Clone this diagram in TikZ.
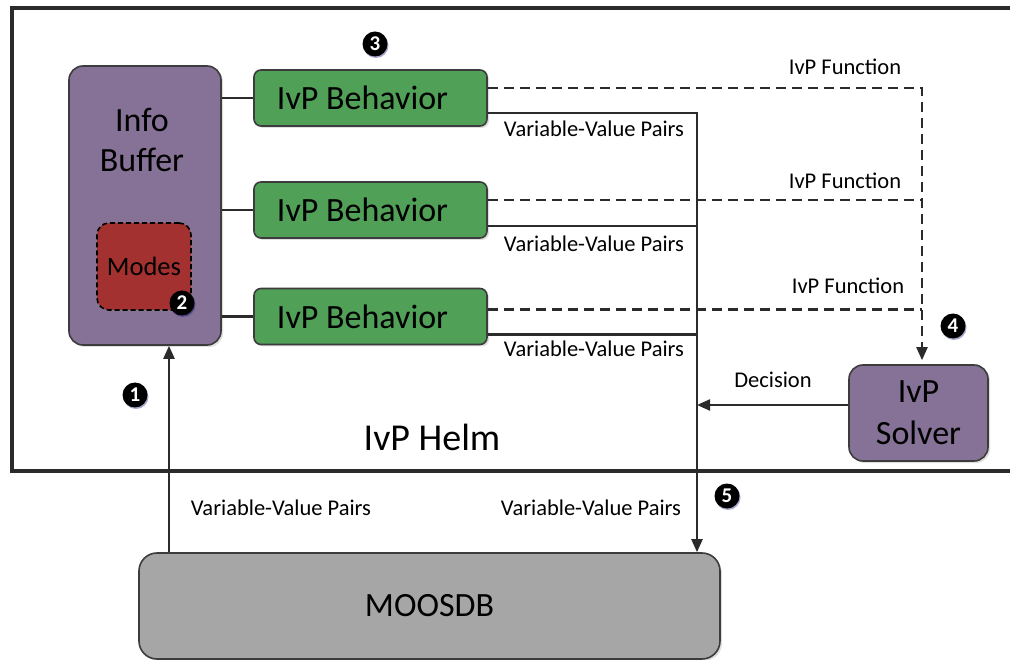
\documentclass[tikz,border=0pt]{standalone}
\usepackage{fontspec}
\setmainfont{Carlito}
\usetikzlibrary{arrows.meta,shadows}
\definecolor{helmline}{RGB}{43,43,43}
\definecolor{infofill}{RGB}{133,114,150}
\definecolor{modesfill}{RGB}{163,49,48}
\definecolor{behfill}{RGB}{80,160,88}
\definecolor{dbfill}{RGB}{166,166,166}
\definecolor{boxline}{RGB}{60,60,60}
\tikzset{
  box/.style={draw=boxline, line width=1.6pt, rounded corners=14pt, inner sep=0pt,
    drop shadow={opacity=0.25, shadow xshift=2pt, shadow yshift=-2pt}},
  behbox/.style={box, fill=behfill, rounded corners=7pt, minimum width=233pt,
    minimum height=56pt, font=\fontsize{34}{40}\selectfont},
  conn/.style={draw=helmline, line width=2.2pt},
  tip/.style={-{Triangle[length=13pt,width=11pt]}},
  fnline/.style={conn, dash pattern=on 10pt off 6pt},
  lbl/.style={font=\fontsize{22.5}{26}\selectfont, inner sep=0pt},
  badge/.style={circle, fill=black, text=white, inner sep=0pt, minimum size=25pt,
    font=\bfseries\fontsize{21}{21}\selectfont,
    drop shadow={opacity=0.35, shadow xshift=1pt, shadow yshift=-1.5pt, fill=blue!40!black}}
}
\begin{document}
\begin{tikzpicture}[x=1pt,y=-1pt]
\useasboundingbox (0,0) rectangle (1010,660);
\clip (0,0) rectangle (1010,660);
% helm frame
\draw[helmline, line width=4pt] (12,8) rectangle (1030,471);
\node[font=\fontsize{38}{44}\selectfont] (helm) at (432,437) {IvP Helm};

% boxes
\node[box, fill=infofill, minimum width=152pt, minimum height=279pt] (info) at (145,205.5) {};
\node[font=\fontsize{34}{40}\selectfont, align=center] (infotext) at (142,140) {Info\\Buffer};
\node[box, fill=modesfill, draw=black, dash pattern=on 5pt off 3pt, rounded corners=12pt,
  minimum width=94pt, minimum height=87pt, font=\fontsize{26.5}{30}\selectfont] (modes) at (144,266.5) {Modes};
\node[behbox] (beh1) at (370.5,98) {IvP Behavior\hspace*{16pt}};
\node[behbox] (beh2) at (370.5,210) {IvP Behavior\hspace*{16pt}};
\node[behbox] (beh3) at (370.5,316.5) {IvP Behavior\hspace*{16pt}};
\node[box, fill=infofill, minimum width=139pt, minimum height=96pt,
  font=\fontsize{34}{42}\selectfont, align=center] (solver) at (918.5,413) {IvP\\Solver};
\node[box, fill=dbfill, rounded corners=18pt, minimum width=581pt, minimum height=106pt,
  font=\fontsize{34}{40}\selectfont] (moos) at (429.5,606) {MOOSDB};

% bus coordinates
\coordinate (bus) at (697,0);
\coordinate (fn) at (922,0);
\coordinate (up) at (169,0);

% info buffer to behaviors
\draw[conn] (info.east |- beh1.west) -- (beh1.west);
\draw[conn] (info.east |- beh2.west) -- (beh2.west);
\draw[conn] (info.east |- beh3.west) -- (beh3.west);

% variable-value pairs to the MOOSDB
\draw[conn, tip] ([yshift=-15pt]beh1.east) -| (bus |- moos.north);
\draw[conn] ([yshift=-16pt]beh2.east) -- ([yshift=-16pt]beh2.east -| bus);
\draw[conn] ([yshift=-18pt]beh3.east) -- ([yshift=-18pt]beh3.east -| bus);
\node[lbl] (vv1) at (594,129) {Variable-Value Pairs};
\node[lbl] (vv2) at (594,244) {Variable-Value Pairs};
\node[lbl] (vv3) at (594,349) {Variable-Value Pairs};

% ivp functions to the solver
\draw[fnline, tip, shorten >=4pt] ([yshift=10pt]beh1.east) -| (fn |- solver.north);
\draw[fnline] ([yshift=10pt]beh2.east) -- ([yshift=10pt]beh2.east -| fn);
\draw[fnline] ([yshift=7pt]beh3.east) -- ([yshift=7pt]beh3.east -| fn);
\node[lbl] (fn1) at (845,67) {IvP Function};
\node[lbl] (fn2) at (845,181) {IvP Function};
\node[lbl] (fn3) at (848,286) {IvP Function};

% decision
\draw[conn, tip] ([yshift=8pt]solver.west) -- ([yshift=8pt]solver.west -| bus);
\node[lbl] (dec) at (773,380) {Decision};

% mail from the MOOSDB
\draw[conn, tip] (up |- moos.north) -- (up |- info.south);
\node[lbl] (vvin) at (281,508) {Variable-Value Pairs};
\node[lbl] (vvout) at (591,508) {Variable-Value Pairs};

% numbered badges
\node[badge] (n1) at (135,395) {1};
\node[badge] (n2) at (182,303) {2};
\node[badge] (n3) at (375,44) {3};
\node[badge] (n4) at (953,326) {4};
\node[badge] (n5) at (727,496) {5};
\end{tikzpicture}
\end{document}
